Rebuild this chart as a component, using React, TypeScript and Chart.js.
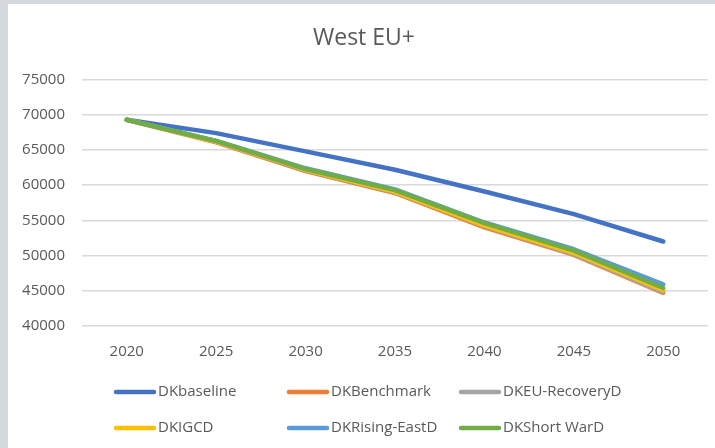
import React, { useEffect, useRef } from "react";
import { Chart, registerables } from "chart.js";

Chart.register(...registerables);

const years = ["2020", "2025", "2030", "2035", "2040", "2045", "2050"];
const dkBaseline = [69300, 67400, 64800, 62200, 59100, 55900, 52000];
const dkBenchmark = [69300, 66100, 62000, 58900, 54000, 50100, 44700];
const dkEURecoveryD = [69300, 66200, 62100, 59000, 54200, 50200, 44800];
const dkIGCD = [69300, 66200, 62200, 59100, 54300, 50400, 45100];
const dkRisingEastD = [69300, 66300, 62400, 59400, 54700, 50900, 45900];
const dkShortWarD = [69300, 66300, 62300, 59300, 54600, 50700, 45400];

const seriesNames = ["DKbaseline", "DKBenchmark", "DKEU-RecoveryD", "DKIGCD", "DKRising-EastD", "DKShort WarD"];
const seriesColors = ["#4472C4", "#ED7D31", "#A5A5A5", "#FFC000", "#5B9BD5", "#70AD47"];
const seriesData = [dkBaseline, dkBenchmark, dkEURecoveryD, dkIGCD, dkRisingEastD, dkShortWarD];

const FONT = "'Open Sans', sans-serif";
const TEXT = "#595959";

const gridLegend = {
  id: "gridLegend",
  afterDraw(chart: any) {
    const ctx = chart.ctx;
    const colX = [106, 279, 451];
    const rowY = [388, 424];
    ctx.save();
    ctx.font = `15px ${FONT}`;
    ctx.textBaseline = "middle";
    ctx.textAlign = "left";
    seriesNames.forEach((name, i) => {
      const x = colX[i % 3];
      const y = rowY[Math.floor(i / 3)];
      ctx.strokeStyle = seriesColors[i];
      ctx.lineWidth = 4.5;
      ctx.lineCap = "round";
      ctx.beginPath();
      ctx.moveTo(x + 2, y);
      ctx.lineTo(x + 40, y);
      ctx.stroke();
      ctx.fillStyle = TEXT;
      ctx.fillText(name, x + 44, y);
    });
    ctx.restore();
  },
};

export default function App() {
  const ref = useRef<HTMLCanvasElement | null>(null);
  useEffect(() => {
    if (!ref.current) return;
    const chart = new Chart(ref.current, {
      type: "line",
      data: {
        labels: years,
        datasets: seriesData.map((d, i) => ({
          label: seriesNames[i],
          data: d,
          borderColor: seriesColors[i],
          backgroundColor: seriesColors[i],
          borderWidth: 4.5,
          borderCapStyle: "round" as const,
          borderJoinStyle: "round" as const,
          pointRadius: 0,
          tension: 0,
          order: seriesData.length - 1 - i,
        })),
      },
      options: {
        animation: false,
        responsive: false,
        maintainAspectRatio: false,
        layout: { padding: { left: 12, right: 7, top: 0, bottom: 92 } },
        plugins: {
          legend: { display: false },
          tooltip: { enabled: false },
          title: {
            display: true,
            text: "West EU+",
            color: TEXT,
            font: { family: FONT, size: 23, weight: "normal" },
            padding: { top: 21, bottom: 27 },
          },
        },
        scales: {
          x: {
            offset: true,
            grid: { display: false, drawTicks: false },
            border: { display: false },
            ticks: { color: TEXT, font: { family: FONT, size: 15 }, padding: 17, maxRotation: 0 },
            afterFit: (s: any) => {
              s.height = 30;
            },
          },
          y: {
            min: 40000,
            max: 75000,
            grid: { color: "#D9D9D9", lineWidth: 1.5, drawTicks: false },
            border: { display: false },
            ticks: {
              stepSize: 5000,
              color: TEXT,
              font: { family: FONT, size: 15 },
              padding: 17,
              callback: (v: any) => String(v),
            },
            afterFit: (s: any) => {
              s.width = 62;
            },
          },
        },
      },
      plugins: [gridLegend],
    });
    return () => chart.destroy();
  }, []);
  return (
    <div style={{ position: "fixed", left: 0, top: 0, width: 715, height: 448, background: "#D5D9DD" }}>
      <canvas
        ref={ref}
        width={707}
        height={444}
        style={{ position: "absolute", left: 8, top: 4, width: 707, height: 444, background: "#FFFFFF" }}
      />
    </div>
  );
}
